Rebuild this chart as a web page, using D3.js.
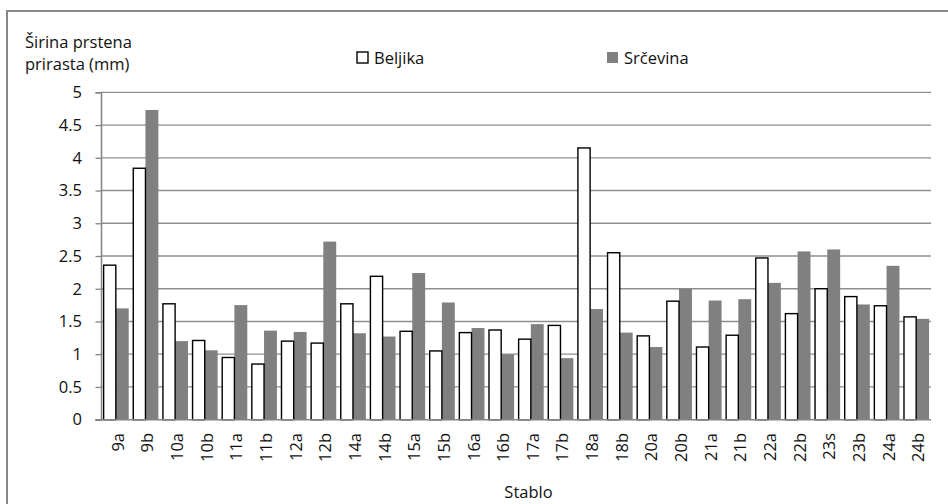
<!DOCTYPE html>
<html>
<head>
<meta charset="utf-8">
<script src="https://cdn.jsdelivr.net/npm/d3@7"></script>
<style>
  html, body { margin: 0; padding: 0; background: #fff; }
  svg { display: block; font-family: "Open Sans", "Noto Sans", sans-serif; }
</style>
</head>
<body>
<svg id="chart" width="948" height="504"></svg>
<script>
// Tree samples along the x axis
const categories = ["9a","9b","10a","10b","11a","11b","12a","12b","14a","14b","15a","15b","16a","16b",
                    "17a","17b","18a","18b","20a","20b","21a","21b","22a","22b","23s","23b","24a","24b"];
// Ring width (mm) for sapwood and heartwood
const beljika  = [2.36,3.84,1.77,1.21,0.95,0.85,1.20,1.17,1.77,2.19,1.35,1.05,1.33,1.37,
                  1.23,1.44,4.15,2.55,1.28,1.81,1.11,1.29,2.47,1.62,2.00,1.88,1.74,1.57];
const srcevina = [1.70,4.73,1.20,1.06,1.75,1.36,1.34,2.72,1.32,1.27,2.24,1.79,1.40,1.00,
                  1.46,0.94,1.69,1.33,1.11,2.00,1.82,1.84,2.09,2.57,2.60,1.76,2.35,1.54];
const seriesNames = ["Beljika", "Srčevina"];
const yTicks = [0,0.5,1,1.5,2,2.5,3,3.5,4,4.5,5];

const svg = d3.select("#chart");
const grey = "#848484";

// outer frame (runs off the right and bottom edges)
svg.append("rect")
  .attr("x", 7).attr("y", 11)
  .attr("width", 1200).attr("height", 800)
  .attr("fill", "none").attr("stroke", "#878787").attr("stroke-width", 2);

const plotLeft = 101, plotRight = 931, plotTop = 92.3, plotBottom = 419.7;

const y = d3.scaleLinear().domain([0, 5]).range([plotBottom, plotTop]);
const x = d3.scaleBand().domain(categories).range([plotLeft, plotRight])
  .paddingInner(0.13).paddingOuter(0.065);
const xs = d3.scaleBand().domain(seriesNames).range([0, x.bandwidth()]);

// horizontal gridlines
svg.append("g").selectAll("line").data(yTicks.filter(d => d > 0)).join("line")
  .attr("x1", plotLeft).attr("x2", plotRight)
  .attr("y1", d => y(d)).attr("y2", d => y(d))
  .attr("stroke", "#8e8e8e").attr("stroke-width", 1.3);

// y axis
const yAxis = d3.axisLeft(y).tickValues(yTicks).tickSize(5.5).tickPadding(13.5)
  .tickFormat(d3.format("~g"));
const gy = svg.append("g").attr("transform", `translate(${plotLeft},0)`).call(yAxis);
gy.select(".domain").attr("stroke", grey).attr("stroke-width", 1.5);
gy.selectAll(".tick line").attr("stroke", grey).attr("stroke-width", 1.3);
gy.selectAll(".tick text").attr("font-size", 16.5).attr("fill", "#111")
  .attr("font-family", "Open Sans, sans-serif");

// bars
const rows = categories.map((c, i) => ({ cat: c, vals: [beljika[i], srcevina[i]] }));
const groups = svg.append("g").selectAll("g").data(rows).join("g")
  .attr("transform", d => `translate(${x(d.cat)},0)`);

groups.append("rect")
  .attr("x", xs("Srčevina")).attr("width", xs.bandwidth())
  .attr("y", d => y(d.vals[1])).attr("height", d => y(0) - y(d.vals[1]))
  .attr("fill", "#808080");

groups.append("rect")
  .attr("x", xs("Beljika") + 0.7).attr("width", xs.bandwidth() - 0.7)
  .attr("y", d => y(d.vals[0])).attr("height", d => y(0) - y(d.vals[0]))
  .attr("fill", "#fff").attr("stroke", "#000").attr("stroke-width", 1.4);

// x axis baseline
svg.append("line")
  .attr("x1", plotLeft - 5.5).attr("x2", plotRight)
  .attr("y1", y(0)).attr("y2", y(0))
  .attr("stroke", grey).attr("stroke-width", 1.5);

// rotated category labels
svg.append("g").selectAll("text").data(categories).join("text")
  .attr("transform", d => `translate(${x(d) + x.bandwidth() / 2 + 1.5},433) rotate(-90)`)
  .attr("text-anchor", "end").attr("dominant-baseline", "central")
  .attr("font-size", 16.5).attr("fill", "#111")
  .text(d => d);

// axis titles
const yTitle = svg.append("text").attr("font-size", 16.5).attr("fill", "#111");
yTitle.append("tspan").attr("x", 25).attr("y", 48).text("Širina prstena");
yTitle.append("tspan").attr("x", 25).attr("y", 70).text("prirasta (mm)");

svg.append("text").attr("x", 528.5).attr("y", 498).attr("text-anchor", "middle")
  .attr("font-size", 16.5).attr("fill", "#111").text("Stablo");

// legend
const legendItems = [
  { name: seriesNames[0], bx: 357, tx: 374, fill: "#fff", stroke: "#000" },
  { name: seriesNames[1], bx: 607, tx: 624, fill: "#808080", stroke: "none" }
];
const lg = svg.append("g").selectAll("g").data(legendItems).join("g");
lg.append("rect")
  .attr("x", d => d.bx).attr("y", 52).attr("width", 11).attr("height", 11)
  .attr("fill", d => d.fill).attr("stroke", d => d.stroke).attr("stroke-width", 1.4);
lg.append("text")
  .attr("x", d => d.tx).attr("y", 63.5)
  .attr("font-size", 16.5).attr("fill", "#111")
  .text(d => d.name);
</script>
</body>
</html>
